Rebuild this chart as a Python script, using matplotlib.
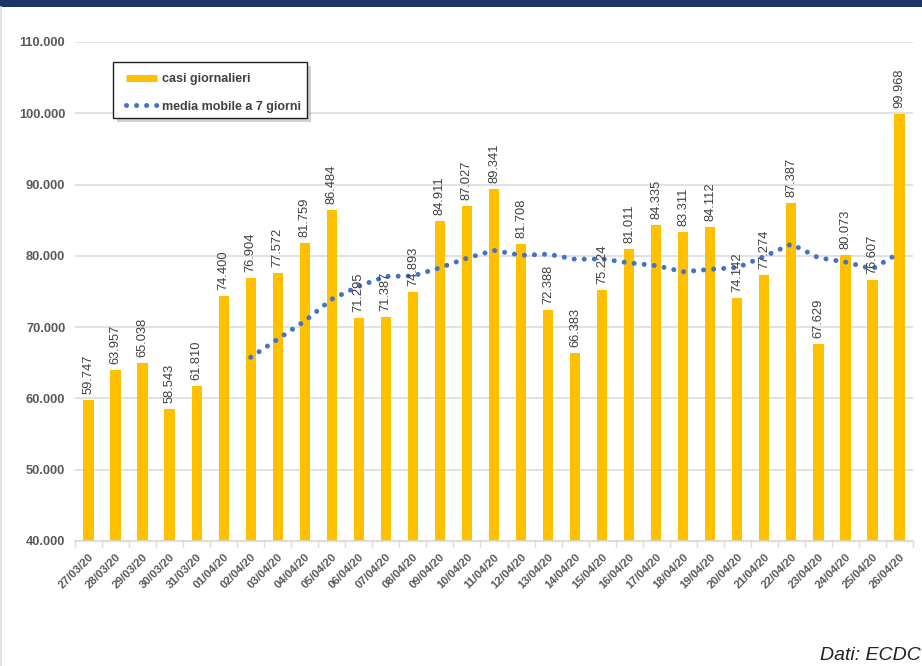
import matplotlib
matplotlib.use("Agg")
import matplotlib.pyplot as plt
from matplotlib.lines import Line2D
from matplotlib.patches import Rectangle
from matplotlib.ticker import FuncFormatter, MultipleLocator
import numpy as np

plt.rcParams['font.family'] = ['Liberation Sans', 'DejaVu Sans']

dates = ["27/03/20", "28/03/20", "29/03/20", "30/03/20", "31/03/20", "01/04/20",
         "02/04/20", "03/04/20", "04/04/20", "05/04/20", "06/04/20", "07/04/20",
         "08/04/20", "09/04/20", "10/04/20", "11/04/20", "12/04/20", "13/04/20",
         "14/04/20", "15/04/20", "16/04/20", "17/04/20", "18/04/20", "19/04/20",
         "20/04/20", "21/04/20", "22/04/20", "23/04/20", "24/04/20", "25/04/20",
         "26/04/20"]
daily_cases = [59747, 63957, 65038, 58543, 61810, 74400, 76904, 77572, 81759, 86484,
               71295, 71387, 74893, 84911, 87027, 89341, 81708, 72388, 66383, 75224,
               81011, 84335, 83311, 84112, 74142, 77274, 87387, 67629, 80073, 76607,
               99968]
# 7-day moving average, starting on 02/04/20
ma_dates = dates[6:]
moving_avg = [65771, 68318, 70861, 73925, 75746, 77114, 77185, 78329, 79679, 80763,
              80080, 80236, 79522, 79569, 79012, 78627, 77766, 78109, 78360, 79916,
              81653, 79741, 79133, 78175, 80440]

label_bars = "casi giornalieri"
label_ma = "media mobile a 7 giorni"
source = "Dati: ECDC"

W, H = 922, 666
fig = plt.figure(figsize=(W / 100, H / 100), dpi=100)
fig.patch.set_facecolor("white")


def fx(px):
    return px / W


def fy(py):
    return 1 - py / H


# header band and left border
fig.patches.append(Rectangle((0, fy(7)), 1, 7 / H, transform=fig.transFigure,
                             facecolor="#1b356b", edgecolor="none", zorder=0))
fig.add_artist(Line2D([fx(1), fx(1)], [0, fy(7)], transform=fig.transFigure,
                      color="#dddddd", lw=1.2))

left, right, bottom, top = fx(75), fx(913), fy(541), fy(42)
ax = fig.add_axes([left, bottom, right - left, top - bottom])

x = np.arange(len(dates))
bar_color = "#FFC000"
ax.bar(x, daily_cases, width=0.38, color=bar_color, zorder=2)

dot_style = (0, (0.01, 2.0))
ma_x = [dates.index(d) for d in ma_dates]
ax.plot(ma_x, moving_avg, color="#4472C4", lw=3.6, linestyle=dot_style,
        dash_capstyle="round", zorder=3)

for xi, v in zip(x, daily_cases):
    ax.annotate(f"{v / 1000:.3f}", (xi, v), xytext=(0, 4.3), textcoords="offset points",
                rotation=90, ha="center", va="bottom", fontsize=9.3, color="#404040",
                zorder=4)

ax.set_xlim(-0.5, len(dates) - 0.5)
ax.set_ylim(40000, 110000)
ax.yaxis.set_major_locator(MultipleLocator(10000))
ax.yaxis.set_major_formatter(FuncFormatter(lambda v, p: f"{v / 1000:.3f}"))
ax.grid(axis="y", color="#d9d9d9", lw=1.1, zorder=0)
ax.set_axisbelow(True)

for s in ["top", "right", "left"]:
    ax.spines[s].set_visible(False)
ax.spines["bottom"].set_color("#d9d9d9")
ax.spines["bottom"].set_linewidth(1.2)

ax.tick_params(axis="y", length=0, pad=7, labelsize=9.3, labelcolor="#595959")
for t in ax.get_yticklabels():
    t.set_fontweight("bold")

ax.set_xticks(x)
ax.set_xticklabels(dates, rotation=45, ha="right", rotation_mode="anchor",
                   fontsize=8.2, fontweight="bold", color="#595959")
ax.tick_params(axis="x", length=0, pad=8)
ax.set_xticks(np.arange(-0.5, len(dates), 1.0), minor=True)
ax.tick_params(axis="x", which="minor", length=4, color="#d9d9d9", width=1)

# legend frame with shadow
lx0, ly0, lx1, ly1 = 113, 62, 307, 118
fig.patches.append(Rectangle((fx(lx0 + 4), fy(ly1 + 4)), (lx1 - lx0) / W, (ly1 - ly0) / H,
                             transform=fig.transFigure, facecolor="#b0b0b0",
                             edgecolor="none", alpha=0.6, zorder=5))
fig.patches.append(Rectangle((fx(lx0), fy(ly1)), (lx1 - lx0) / W, (ly1 - ly0) / H,
                             transform=fig.transFigure, facecolor="white",
                             edgecolor="#222222", lw=1.0, zorder=5.1))

handles = [Line2D([0], [0], color=bar_color, lw=5, solid_capstyle="butt"),
           Line2D([0], [0], color="#4472C4", lw=3.6, linestyle=dot_style,
                  dash_capstyle="round")]
leg = fig.legend(handles, [label_bars, label_ma], loc="upper left",
                 bbox_to_anchor=(fx(126), fy(73)), frameon=False, borderaxespad=0,
                 borderpad=0, prop={"size": 9, "weight": "bold"}, handlelength=2.5,
                 handletextpad=0.4, labelspacing=1.26)
leg.set_zorder(6)
for t in leg.get_texts():
    t.set_color("#404040")

fig.text(fx(921), fy(660), source, ha="right", va="baseline", fontsize=14,
         style="italic", color="#222222")

fig.savefig("out.png", dpi=100)
